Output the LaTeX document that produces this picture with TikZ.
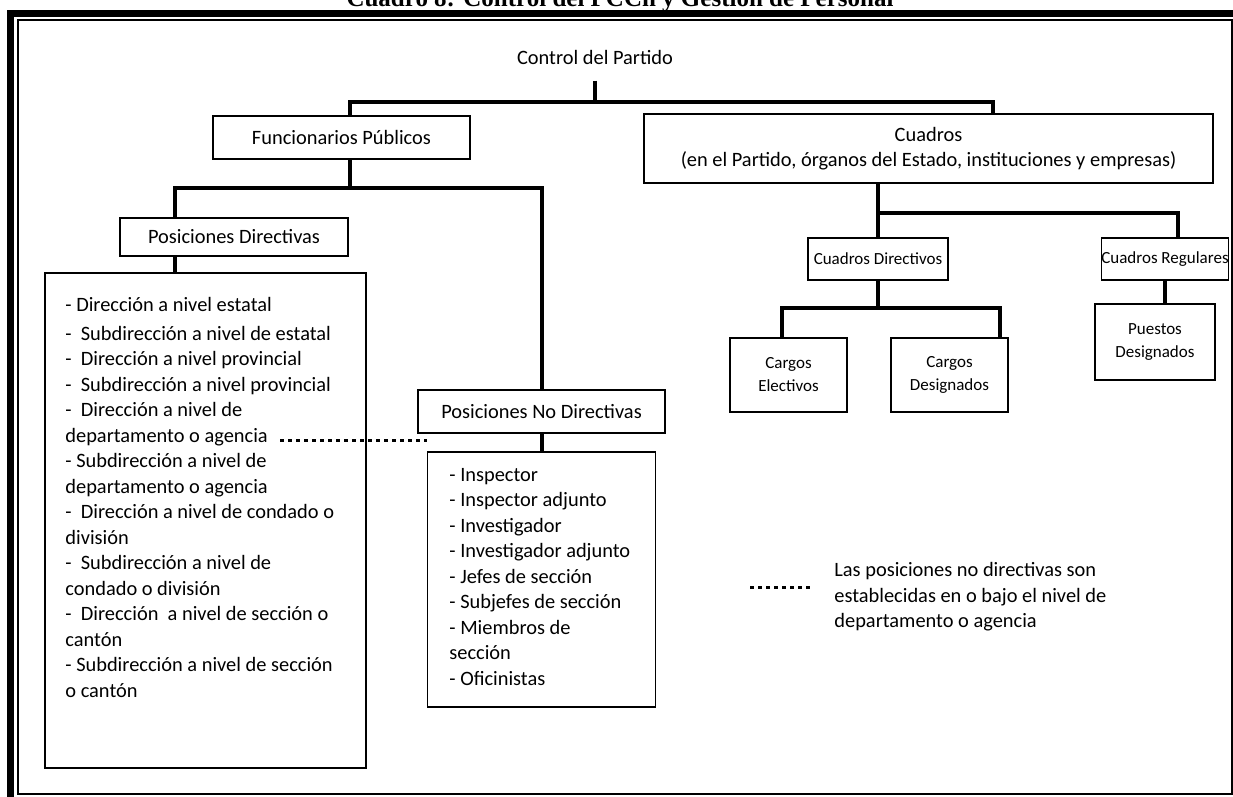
\documentclass[tikz,border=0pt]{standalone}
\usepackage{fontspec}
\setmainfont{Carlito}
\newfontfamily\titlefont{Liberation Serif}
\usetikzlibrary{calc}

\tikzset{
  caja/.style={draw, line width=0.8pt, inner sep=0pt, align=center,
    font=\fontsize{10.2}{12.75}\selectfont},
  cajita/.style={caja, font=\fontsize{8.5}{11.5}\selectfont},
  lista/.style={inner sep=0pt, align=left, anchor=north west,
    font=\fontsize{10.2}{12.75}\selectfont},
  enlace/.style={line width=2pt},
  punteado/.style={line width=1.5pt, dash pattern=on 2pt off 2pt},
}

\begin{document}
\begin{tikzpicture}[x=0.5pt,y=-0.5pt]
  \useasboundingbox (0,0) rectangle (1233,797);
  % title and frame
  \node[font=\titlefont\bfseries\fontsize{12.5}{15}\selectfont, anchor=base] (titulo) at (620,7)
    {Cuadro 8: Control del PCCh y Gestión de Personal};
  \draw[line width=3.5pt] (10.5,13.5) rectangle (1250,812);
  \draw[line width=1pt] (18,20.5) rectangle (1232,794);
  % top level
  \node[font=\fontsize{10.2}{12.75}\selectfont, inner sep=0pt] (ctrl) at (595,57) {Control del Partido};
  \node[caja, minimum width=128.5pt, minimum height=21.5pt] (func) at (341.5,137.5) {Funcionarios Públicos};
  \node[caja, minimum width=284.5pt, minimum height=34.5pt] (cuad) at (928.5,148.5)
    {Cuadros\\(en el Partido, órganos del Estado, instituciones y empresas)};
  % funcionarios
  \node[caja, minimum width=114pt, minimum height=19pt] (pdir) at (234,237) {Posiciones Directivas};
  \node[caja, minimum width=160.5pt, minimum height=247.5pt] (pdlist) at (205.5,520.5) {};
  \node[lista] (pdtext) at (65,297) {- Dirección a nivel estatal\\[1.5pt]
    -\ \ Subdirección a nivel de estatal\\
    -\ \ Dirección a nivel provincial\\
    -\ \ Subdirección a nivel provincial\\
    -\ \ Dirección a nivel de\\
    departamento o agencia\\
    - Subdirección a nivel de\\
    departamento o agencia\\
    -\ \ Dirección a nivel de condado o\\
    división\\
    -\ \ Subdirección a nivel de\\
    condado o división\\
    -\ \ Dirección\ \ a nivel de sección o\\
    cantón\\
    - Subdirección a nivel de sección\\
    o cantón};
  \node[caja, minimum width=123.5pt, minimum height=21.5pt] (pnd) at (541.5,411.5) {Posiciones No Directivas};
  \node[caja, minimum width=114pt, minimum height=127.5pt] (pndlist) at (541.5,579.5) {};
  \node[lista] (pndtext) at (449,468) {- Inspector\\
    - Inspector adjunto\\
    - Investigador\\
    - Investigador adjunto\\
    - Jefes de sección\\
    - Subjefes de sección\\
    - Miembros de\\
    sección\\
    - Oficinistas};
  % cuadros
  \node[cajita, minimum width=70pt, minimum height=21pt] (cdir) at (878,259) {Cuadros Directivos};
  \node[cajita, minimum width=62pt, minimum height=21pt] (creg) at (1165,259) {Cuadros Regulares};
  \node[cajita, minimum width=58.5pt, minimum height=37pt] (celec) at (788.5,375) {Cargos\\Electivos};
  \node[cajita, minimum width=58.5pt, minimum height=37pt] (cdes) at (949.5,375) {Cargos\\Designados};
  \node[cajita, minimum width=60pt, minimum height=38pt] (pdes) at (1155,342) {Puestos\\Designados};
  % legend
  \node[lista, anchor=west] (nota) at (834,597) {Las posiciones no directivas son\\
    establecidas en o bajo el nivel de\\
    departamento o agencia};
  % connectors
  \coordinate (b1) at (595,102);
  \draw[enlace] ($(ctrl.south)+(0,16)$) -- (b1);
  \draw[enlace] ($(func.north)+(8.5,0)$) |- (b1) -| ($(cuad.north)+(64.5,0)$);
  \coordinate (b2) at (350,188);
  \draw[enlace] ($(func.south)+(8.5,0)$) -- (b2);
  \draw[enlace] ($(pdir.north)+(-59,0)$) |- (b2) -| (pnd.north);
  \draw[enlace] ($(pdir.south)+(-59,0)$) -- ($(pdlist.north)+(-30.5,0)$);
  \draw[enlace] (pnd.south) -- (pndlist.north);
  \coordinate (b3) at (878,213);
  \draw[enlace] ($(cuad.south)+(-50.5,0)$) -- (b3);
  \draw[enlace] (cdir.north) |- (b3) -| ($(creg.north)+(13,0)$);
  \coordinate (b4) at (878,308);
  \draw[enlace] (cdir.south) -- (b4);
  \draw[enlace] ($(celec.north)+(-6.5,0)$) |- (b4) -| ($(cdes.north)+(50.5,0)$);
  \draw[enlace] (creg.south) -- (creg.south |- pdes.north);
  % dotted lines
  \coordinate (dep) at (280,440);
  \draw[punteado] (dep) -- (dep -| pndlist.west);
  \coordinate (ley) at (750,587);
  \draw[punteado] (ley) -- ++(62,0);
\end{tikzpicture}
\end{document}
